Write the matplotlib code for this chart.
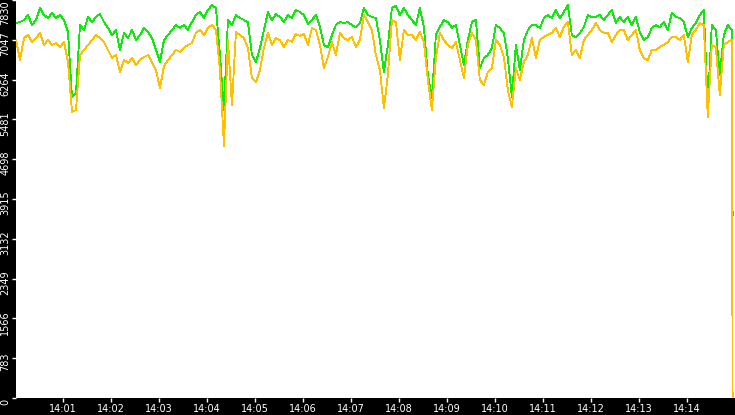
import numpy as np
import matplotlib
matplotlib.use("Agg")
import matplotlib.pyplot as plt
from matplotlib.transforms import ScaledTranslation

# samples every 5 s starting 14:00:01, last sample is the drop at the end
green = [7378, 7397, 7437, 7535, 7338, 7437, 7673, 7535, 7476, 7574,
         7476, 7535, 7437, 7200, 5922, 6000, 7338, 7240, 7496, 7397,
         7496, 7555, 7397, 7279, 7141, 7240, 6846, 7181, 7082, 7240,
         7043, 7141, 7279, 7200, 7082, 6846, 6610, 7043, 7141, 7240,
         7338, 7279, 7338, 7240, 7397, 7535, 7594, 7476, 7633, 7732,
         7673, 6748, 5666, 7437, 7338, 7535, 7476, 7437, 7397, 6748,
         6610, 6886, 7240, 7594, 7437, 7555, 7496, 7397, 7535, 7476,
         7633, 7594, 7535, 7358, 7437, 7535, 7299, 6945, 6905, 7141,
         7338, 7397, 7378, 7397, 7338, 7299, 7378, 7673, 7535, 7496,
         7476, 7043, 6414, 6945, 7673, 7712, 7535, 7673, 7535, 7437,
         7338, 7673, 7299, 6355, 5902, 7141, 7299, 7437, 7397, 7279,
         7338, 6945, 6551, 7043, 7397, 7437, 6492, 6689, 6748, 6886,
         7338, 7279, 7181, 6689, 5922, 6945, 6453, 7043, 7240, 7338,
         7338, 7279, 7476, 7535, 7476, 7633, 7476, 7594, 7732, 7141,
         7102, 7181, 7299, 7535, 7496, 7496, 7535, 7437, 7535, 7633,
         7378, 7496, 7397, 7496, 7338, 7496, 7200, 7043, 7102, 7279,
         7338, 7299, 7397, 7240, 7574, 7496, 7476, 7397, 7102, 7279,
         7378, 7535, 7633, 5764, 7338, 7240, 6355, 7141, 7338, 7240,
         3600]

yellow = [7043, 6650, 7082, 7141, 7004, 7082, 7181, 6945, 7043, 6945,
          6984, 6905, 7004, 6610, 5627, 5666, 6748, 6846, 6945, 7043,
          7141, 7082, 7004, 6846, 6689, 6748, 6414, 6650, 6591, 6689,
          6551, 6650, 6709, 6748, 6610, 6453, 6099, 6532, 6650, 6748,
          6846, 6807, 6886, 6945, 6984, 7181, 7240, 7141, 7279, 7338,
          7240, 6453, 4958, 7043, 5764, 7200, 7141, 7082, 6886, 6296,
          6217, 6453, 6886, 7181, 6945, 7082, 7043, 6905, 7043, 7004,
          7161, 7122, 7161, 6945, 7279, 7240, 6945, 6492, 6709, 7004,
          6748, 7181, 7082, 7043, 7102, 6905, 7043, 7535, 7397, 7240,
          6748, 6453, 5705, 6355, 7437, 7397, 6650, 7240, 7141, 7141,
          7043, 7200, 7004, 6256, 5666, 6689, 7181, 7043, 6945, 6886,
          7004, 6650, 6296, 6945, 7181, 7043, 6256, 6158, 6414, 6492,
          7043, 6945, 6709, 6059, 5725, 6492, 6256, 6610, 6748, 7082,
          6689, 7043, 7102, 7141, 7181, 7279, 7102, 7299, 7397, 6748,
          6846, 6689, 7043, 7141, 7240, 7378, 7240, 7181, 7181, 7004,
          7141, 7240, 7240, 7043, 7141, 7240, 6846, 6689, 6650, 6846,
          6846, 6905, 6945, 7004, 7102, 7102, 7043, 7141, 6610, 7141,
          7240, 7378, 7338, 5528, 6945, 6905, 5961, 6945, 7004, 7043,
          0]

yticks = [0, 783, 1566, 2349, 3132, 3915, 4698, 5481, 6264, 7047, 7830]
xtick_labels = ["14:%02d" % m for m in range(1, 15)]

t = list(1 + 5 * np.arange(len(green) - 1)) + [897]

fig = plt.figure(figsize=(7.35, 4.15), dpi=100, facecolor="black")
ax = fig.add_axes([16 / 735, 17 / 415, 719 / 735, 398 / 415])
ax.set_facecolor("white")

ax.plot(t, green, color="#10e810", lw=0.6, antialiased=False)
ax.plot(t, yellow, color="#ffc000", lw=0.6, antialiased=False)

ax.set_xlim(1, 900)
ax.set_ylim(0, 7830)

ax.set_xticks([60 * m for m in range(1, 15)])
ax.set_xticklabels(xtick_labels)
ax.set_yticks(yticks)
ax.set_yticklabels([str(v) for v in yticks], rotation=90, va="center")

ax.tick_params(colors="white", labelsize=7, length=3, width=1, pad=1)

# the y labels sit a bit below their ticks, the top one is kept inside
shift = ScaledTranslation(0, -4 / 100, fig.dpi_scale_trans)
labels = ax.get_yticklabels()
for lab in labels[:-1]:
    lab.set_transform(lab.get_transform() + shift)
labels[-1].set_va("top")

for s in ax.spines.values():
    s.set_visible(False)

fig.savefig("out.png", dpi=100, facecolor="black")
